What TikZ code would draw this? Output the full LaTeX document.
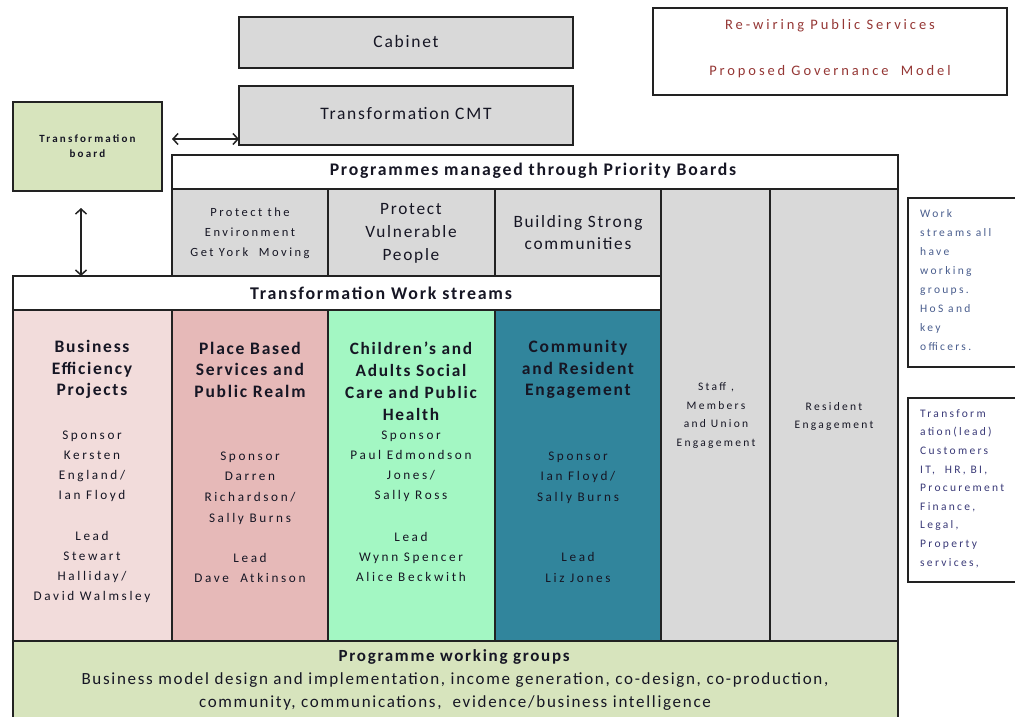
\documentclass[tikz,border=0pt]{standalone}
\usepackage{fontspec}
\setmainfont{Carlito}
\newfontfamily\fA[LetterSpace=10]{Carlito}
\newfontfamily\fB[LetterSpace=20]{Carlito}
\usetikzlibrary{arrows.meta}
\definecolor{grayfill}{HTML}{D9D9D9}
\definecolor{olivefill}{HTML}{D7E4BD}
\definecolor{pinkA}{HTML}{F2DCDB}
\definecolor{pinkB}{HTML}{E6B9B8}
\definecolor{mint}{HTML}{A3F7C3}
\definecolor{teal}{HTML}{31859C}
\definecolor{txt}{HTML}{161624}
\definecolor{titletxt}{HTML}{953735}
\definecolor{noteA}{HTML}{4A5E8E}
\definecolor{noteB}{HTML}{3A3A78}
\definecolor{edge}{HTML}{222222}
\tikzset{
  box/.style={draw=edge, line width=1.6pt, inner sep=0pt, outer sep=0pt, anchor=north west},
  lbl/.style={inner sep=0pt, align=center, text=txt},
  arr/.style={line width=1.5pt, draw=edge, {Straight Barb[length=5pt,width=11pt]}-{Straight Barb[length=5pt,width=11pt]}},
}
\newcommand{\fsz}[2]{\fontsize{#1}{#2}\selectfont}
\begin{document}
\begin{tikzpicture}[x=1pt,y=-1pt]
\useasboundingbox (0,0) rectangle (1015,717);
\clip (0,0) rectangle (1015,717);
% boxes
\node[box, fill=grayfill, minimum width=334pt, minimum height=51pt] (cabinet) at (239,17) {};
\node[box, fill=grayfill, minimum width=334pt, minimum height=59pt] (cmt) at (239,86) {};
\node[box, fill=olivefill, minimum width=149pt, minimum height=89pt] (tboard) at (13,102) {};
\node[box, fill=white, minimum width=354pt, minimum height=87pt] (title) at (653,8) {};
\node[box, fill=white, minimum width=726pt, minimum height=34pt] (prog) at (172,155) {};
\node[box, fill=grayfill, minimum width=156pt, minimum height=87pt] (pb1) at (172,189) {};
\node[box, fill=grayfill, minimum width=167pt, minimum height=87pt] (pb2) at (328,189) {};
\node[box, fill=grayfill, minimum width=166pt, minimum height=87pt] (pb3) at (495,189) {};
\node[box, fill=grayfill, minimum width=109pt, minimum height=452pt] (staff) at (661,189) {};
\node[box, fill=grayfill, minimum width=128pt, minimum height=452pt] (resid) at (770,189) {};
\node[box, fill=white, minimum width=648pt, minimum height=34pt] (tws) at (13,276) {};
\node[box, fill=pinkA, minimum width=159pt, minimum height=331pt] (c1) at (13,310) {};
\node[box, fill=pinkB, minimum width=156pt, minimum height=331pt] (c2) at (172,310) {};
\node[box, fill=mint, minimum width=167pt, minimum height=331pt] (c3) at (328,310) {};
\node[box, fill=teal, minimum width=166pt, minimum height=331pt] (c4) at (495,310) {};
\node[box, fill=olivefill, minimum width=885pt, minimum height=90pt] (bottom) at (13,641) {};
\node[box, fill=white, minimum width=120pt, minimum height=169pt] (note1) at (908,198) {};
\node[box, fill=white, minimum width=120pt, minimum height=184pt] (note2) at (908,398) {};
% arrows
\coordinate (a1) at ([xshift=10pt,yshift=7.5pt]tboard.east);
\draw[arr] (a1) -- (a1 -| cmt.west);
\coordinate (a2) at ([xshift=-6.5pt,yshift=-17pt]tboard.south);
\draw[arr] (a2) -- (a2 |- tws.north);
% texts
\node[lbl, font=\fA\fsz{17.5}{21}] (tcab) at (406,41) {Cabinet};
\node[lbl, font=\fA\fsz{17.5}{21}] (tcmt) at (406,114) {Transformation CMT};
\node[lbl, font=\fB\bfseries\fsz{11}{15.5}] (ttb) at (87.5,146) {Transformation\\board};
\node[lbl, text=titletxt, font=\fB\fsz{14.5}{17}] (tt1) at (830,26) {Re-wiring Public Services};
\node[lbl, text=titletxt, font=\fB\fsz{14.5}{17}] (tt2) at (830,72) {Proposed Governance\ \ Model};
\node[lbl, font=\fA\bfseries\fsz{17.7}{20}] (tprog) at (533,171) {Programmes managed through Priority Boards};
\node[lbl, font=\fB\fsz{12.5}{20}] (tpb1) at (250,233) {Protect the\\Environment\\Get York\ \ Moving};
\node[lbl, font=\fA\fsz{17.3}{23}] (tpb2) at (411,233) {Protect\\Vulnerable\\People};
\node[lbl, font=\fA\fsz{17.3}{22}] (tpb3) at (578,233) {Building Strong\\communities};
\node[lbl, font=\fA\bfseries\fsz{17.9}{20}] (ttws) at (381,293) {Transformation Work streams};
% column 1
\node[lbl, font=\fA\bfseries\fsz{17.5}{21.5}] (h1) at (92,369.5) {Business\\Efficiency\\Projects};
\node[lbl, font=\fB\fsz{13.2}{20}] (s1) at (92,466) {Sponsor\\Kersten\\England/\\Ian Floyd};
\node[lbl, font=\fB\fsz{13.2}{20}] (l1) at (92,567) {Lead\\Stewart\\Halliday/\\David Walmsley};
% column 2
\node[lbl, font=\fA\bfseries\fsz{17.5}{21.5}] (h2) at (250,369.5) {Place Based\\Services and\\Public Realm};
\node[lbl, font=\fB\fsz{13.2}{20.7}] (s2) at (250,488) {Sponsor\\Darren\\Richardson/\\Sally Burns};
\node[lbl, font=\fB\fsz{13.2}{20}] (l2) at (250,568) {Lead\\Dave\ \ Atkinson};
% column 3
\node[lbl, font=\fA\bfseries\fsz{17.3}{22}] (h3) at (411,381) {Children’s and\\Adults Social\\Care and Public\\Health};
\node[lbl, font=\fB\fsz{13.2}{20}] (s3) at (411,466) {Sponsor\\Paul Edmondson\\Jones/\\Sally Ross};
\node[lbl, font=\fB\fsz{13.2}{20}] (l3) at (411,557) {Lead\\Wynn Spencer\\Alice Beckwith};
% column 4
\node[lbl, font=\fA\bfseries\fsz{17.5}{21.5}] (h4) at (578,369.5) {Community\\and Resident\\Engagement};
\node[lbl, font=\fB\fsz{13.2}{20.5}] (s4) at (578,477.5) {Sponsor\\Ian Floyd/\\Sally Burns};
\node[lbl, font=\fB\fsz{13.2}{21}] (l4) at (578,567.5) {Lead\\Liz Jones};
% right columns
\node[lbl, font=\fB\fsz{11.5}{18.5}] (tstaff) at (716,415.5) {Staff ,\\Members\\and Union\\Engagement};
\node[lbl, font=\fB\fsz{11.5}{18}] (tres) at (834,416) {Resident\\Engagement};
% notes
\node[lbl, align=left, anchor=west, text=noteA, font=\fB\fsz{11.5}{19.1}] (tn1) at (920,280) {Work\\streams all\\have\\working\\groups.\\HoS and\\key\\officers.};
\node[lbl, align=left, anchor=west, text=noteB, font=\fB\fsz{11.5}{18.6}] (tn2) at (920,488.5) {Transform\\ation(lead)\\Customers\\IT,\ \ HR, BI,\\Procurement\\Finance,\\Legal,\\Property\\services,};
% bottom
\node[lbl, font=\fA\fsz{17}{23}] (tbot) at (455,680) {\textbf{Programme working groups}\\Business model design and implementation, income generation, co-design, co-production,\\community, communications,\ \ evidence/business intelligence};
\end{tikzpicture}
\end{document}
